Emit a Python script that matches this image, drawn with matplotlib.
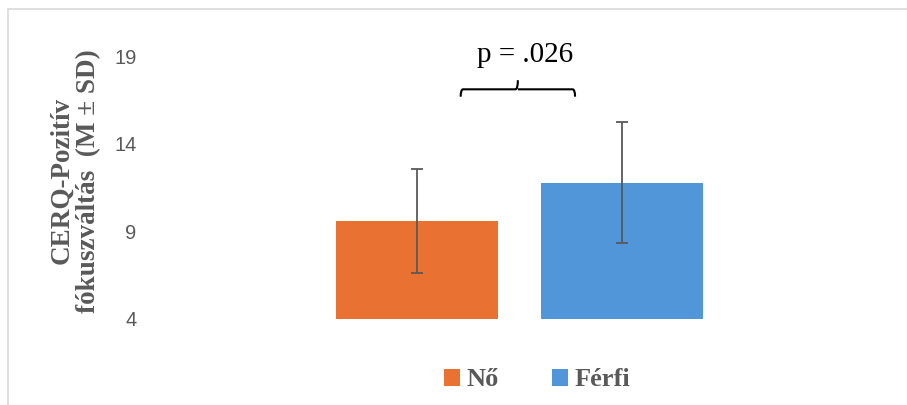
import matplotlib.pyplot as plt
from matplotlib.patches import Patch, Rectangle
from matplotlib.path import Path
from matplotlib.patches import PathPatch

# ----------------------------------------------------
# data
# ----------------------------------------------------
groups = ["Nő", "Férfi"]
means = [9.6, 11.78]
sds = [2.97, 3.43]
colors = ["#E97132", "#5096D8"]
y_ticks = [4, 9, 14, 19]
p_label = "p = .026"

gray = "#595959"
serif = "Liberation Serif"
sans = "Liberation Sans"

fig = plt.figure(figsize=(9.07, 4.05), dpi=100)
W, H = 907, 405
# axes: plot area from x=145..894 px, y=56..319 px
ax = fig.add_axes([145 / W, 1 - 319 / H, (894 - 145) / W, (319 - 56) / H])

x = list(range(len(groups)))
ax.bar(x, [m - 4 for m in means], bottom=4, width=0.79, color=colors,
       yerr=sds, ecolor=gray, capsize=4,
       error_kw=dict(elinewidth=1.3, capthick=1.3))

ax.set_xlim(-1.327, 2.327)
ax.set_ylim(4, 19)
ax.set_yticks(y_ticks)
ax.set_yticklabels([str(t) for t in y_ticks], fontsize=14.5, color=gray,
                   family=sans)
ax.set_xticks([])
ax.tick_params(axis="y", length=0, pad=6)
for s in ax.spines.values():
    s.set_visible(False)

ax.set_ylabel("CERQ-Pozitív\nfókuszváltás  (M ± SD)", fontsize=19.5,
              fontweight="bold", family=serif, color=gray,
              linespacing=1.1)
ax.yaxis.set_label_coords(-0.058, 0.525)

# significance bracket between the two bars
x0, x1 = x[0] + 0.213, x[1] - 0.229
xm = (x0 + x1) / 2
y_end, y_h, y_top = 16.68, 17.1, 17.62
dx = 0.012
verts = [(x0, y_end), (x0, y_h), (x0 + dx, y_h),
         (xm - dx, y_h), (xm, y_h), (xm, y_top),
         (xm, y_h), (xm + dx, y_h),
         (x1 - dx, y_h), (x1, y_h), (x1, y_end)]
codes = [Path.MOVETO, Path.CURVE3, Path.CURVE3,
         Path.LINETO, Path.CURVE3, Path.CURVE3,
         Path.MOVETO, Path.LINETO,
         Path.LINETO, Path.CURVE3, Path.CURVE3]
ax.add_patch(PathPatch(Path(verts, codes), fill=False, lw=1.5,
                       edgecolor="black", clip_on=False))
ax.text(xm + 0.035, 19.05, p_label, ha="center", va="center", fontsize=21,
        family=serif, color="black", clip_on=False)

# legend
handles = [Patch(facecolor=c, edgecolor="none") for c in colors]
leg = fig.legend(handles, groups, loc="center", ncol=2,
                 bbox_to_anchor=(537 / W, 1 - 380 / H), frameon=False,
                 handlelength=0.6, handleheight=0.6, handletextpad=0.25,
                 columnspacing=2.0,
                 prop=dict(family=serif, weight="bold", size=19))
for t in leg.get_texts():
    t.set_color(gray)

# light chart border
fig.add_artist(Rectangle((8 / W, -0.1), 2, 1 - 9 / H + 0.1,
                         transform=fig.transFigure, fill=False,
                         edgecolor="#D9D9D9", lw=1.2, clip_on=False))

fig.savefig("out.png", dpi=100)
